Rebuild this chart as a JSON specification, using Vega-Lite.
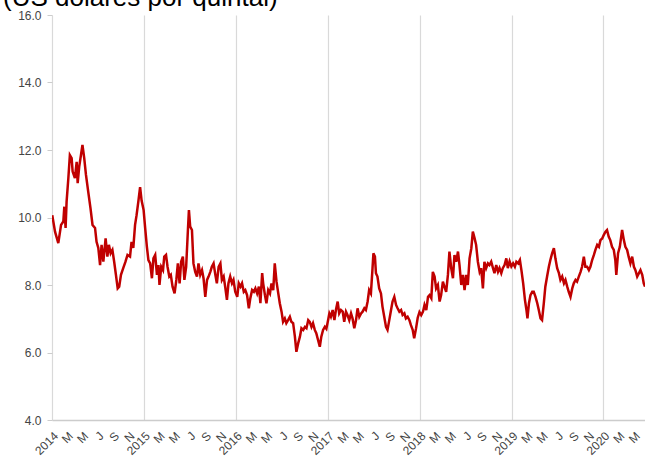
{
"$schema":"https://vega.github.io/schema/vega-lite/v6.json",
"width":593,"height":405,
"autosize":{"type":"none"},
"padding":{"left":52,"top":15,"right":0,"bottom":37},
"background":"white",
"title":{"text":"(US dólares por quintal)","anchor":"start","frame":"group","dx":-49,"dy":2,"offset":0,"font":"Liberation Sans","fontSize":26,"fontWeight":"normal","color":"#000000"},
"config":{"view":{"stroke":null},"font":"Liberation Sans","axisX":{"labelAngle":-45}},
"data":{"values":[
{"d":"2014-01-02","v":10.07},{"d":"2014-01-13","v":9.58},{"d":"2014-01-26","v":9.24},{"d":"2014-02-06","v":9.78},{"d":"2014-02-15","v":9.88},{"d":"2014-02-19","v":10.32},{"d":"2014-02-24","v":9.69},{"d":"2014-02-28","v":10.47},
{"d":"2014-03-07","v":11.17},{"d":"2014-03-13","v":11.85},{"d":"2014-03-20","v":11.76},{"d":"2014-03-24","v":11.36},{"d":"2014-04-02","v":11.17},{"d":"2014-04-09","v":11.65},{"d":"2014-04-13","v":11.02},{"d":"2014-04-19","v":11.5},{"d":"2014-04-26","v":11.85},
{"d":"2014-05-02","v":12.15},{"d":"2014-05-09","v":11.76},{"d":"2014-05-16","v":11.26},{"d":"2014-05-25","v":10.76},{"d":"2014-06-03","v":10.27},{"d":"2014-06-11","v":9.78},{"d":"2014-06-21","v":9.69},{"d":"2014-06-27","v":9.28},
{"d":"2014-07-04","v":9.1},{"d":"2014-07-11","v":8.59},{"d":"2014-07-17","v":9.19},{"d":"2014-07-24","v":8.69},{"d":"2014-08-02","v":9.38},{"d":"2014-08-09","v":8.84},{"d":"2014-08-15","v":9.19},{"d":"2014-08-22","v":8.94},{"d":"2014-08-29","v":9.04},
{"d":"2014-09-05","v":8.69},{"d":"2014-09-12","v":8.3},{"d":"2014-09-19","v":7.9},{"d":"2014-09-25","v":7.95},{"d":"2014-10-02","v":8.3},{"d":"2014-10-11","v":8.5},{"d":"2014-10-20","v":8.69},{"d":"2014-10-28","v":8.89},
{"d":"2014-11-07","v":8.84},{"d":"2014-11-13","v":9.28},{"d":"2014-11-20","v":9.1},{"d":"2014-11-27","v":9.78},{"d":"2014-12-03","v":10.07},{"d":"2014-12-10","v":10.47},{"d":"2014-12-17","v":10.9},{"d":"2014-12-23","v":10.5},{"d":"2014-12-31","v":10.22},
{"d":"2015-01-06","v":9.7},{"d":"2015-01-13","v":9.13},{"d":"2015-01-19","v":8.74},{"d":"2015-01-26","v":8.64},{"d":"2015-02-02","v":8.2},{"d":"2015-02-08","v":8.79},{"d":"2015-02-15","v":8.89},{"d":"2015-02-22","v":8.3},{"d":"2015-02-28","v":8.59},
{"d":"2015-03-04","v":8.0},{"d":"2015-03-11","v":8.54},{"d":"2015-03-18","v":8.44},{"d":"2015-03-23","v":8.84},{"d":"2015-03-30","v":8.89},{"d":"2015-04-05","v":8.54},{"d":"2015-04-12","v":8.25},{"d":"2015-04-18","v":8.3},{"d":"2015-04-25","v":7.95},
{"d":"2015-05-03","v":7.75},{"d":"2015-05-10","v":8.15},{"d":"2015-05-16","v":8.64},{"d":"2015-05-23","v":8.05},{"d":"2015-05-29","v":8.69},{"d":"2015-06-05","v":8.84},{"d":"2015-06-11","v":8.15},{"d":"2015-06-18","v":8.54},{"d":"2015-06-25","v":9.63},{"d":"2015-06-29","v":10.22},
{"d":"2015-07-04","v":9.73},{"d":"2015-07-11","v":9.63},{"d":"2015-07-17","v":8.64},{"d":"2015-07-24","v":8.39},{"d":"2015-07-31","v":8.25},{"d":"2015-08-06","v":8.64},{"d":"2015-08-13","v":8.3},{"d":"2015-08-20","v":8.44},{"d":"2015-08-26","v":8.2},
{"d":"2015-09-02","v":7.65},{"d":"2015-09-09","v":8.15},{"d":"2015-09-15","v":8.25},{"d":"2015-09-22","v":8.39},{"d":"2015-09-28","v":8.54},{"d":"2015-10-05","v":8.64},{"d":"2015-10-12","v":8.3},{"d":"2015-10-18","v":8.05},{"d":"2015-10-25","v":8.54},
{"d":"2015-11-01","v":8.64},{"d":"2015-11-07","v":8.15},{"d":"2015-11-14","v":8.25},{"d":"2015-11-20","v":7.95},{"d":"2015-11-27","v":7.56},{"d":"2015-12-03","v":8.05},{"d":"2015-12-10","v":8.25},{"d":"2015-12-17","v":8.05},{"d":"2015-12-23","v":8.15},{"d":"2015-12-30","v":7.8},
{"d":"2016-01-07","v":7.65},{"d":"2016-01-13","v":8.05},{"d":"2016-01-20","v":7.95},{"d":"2016-01-26","v":8.05},{"d":"2016-02-02","v":7.8},{"d":"2016-02-08","v":7.85},{"d":"2016-02-15","v":7.7},{"d":"2016-02-22","v":7.31},{"d":"2016-02-28","v":7.61},
{"d":"2016-03-06","v":7.85},{"d":"2016-03-13","v":7.8},{"d":"2016-03-19","v":7.9},{"d":"2016-03-26","v":7.75},{"d":"2016-04-02","v":7.95},{"d":"2016-04-08","v":7.46},{"d":"2016-04-15","v":8.35},{"d":"2016-04-19","v":8.05},{"d":"2016-04-26","v":7.7},
{"d":"2016-05-02","v":7.46},{"d":"2016-05-09","v":7.85},{"d":"2016-05-16","v":7.75},{"d":"2016-05-22","v":8.05},{"d":"2016-05-29","v":7.85},{"d":"2016-06-04","v":8.64},{"d":"2016-06-11","v":8.1},{"d":"2016-06-18","v":7.75},{"d":"2016-06-24","v":7.46},
{"d":"2016-07-01","v":7.21},{"d":"2016-07-07","v":6.91},{"d":"2016-07-14","v":7.01},{"d":"2016-07-20","v":6.87},{"d":"2016-07-27","v":6.96},{"d":"2016-08-03","v":7.06},{"d":"2016-08-09","v":6.91},{"d":"2016-08-16","v":6.87},{"d":"2016-08-23","v":6.47},{"d":"2016-08-29","v":6.02},
{"d":"2016-09-05","v":6.27},{"d":"2016-09-12","v":6.47},{"d":"2016-09-18","v":6.72},{"d":"2016-09-25","v":6.67},{"d":"2016-10-02","v":6.76},{"d":"2016-10-08","v":6.72},{"d":"2016-10-15","v":6.96},{"d":"2016-10-21","v":6.91},{"d":"2016-10-28","v":6.76},
{"d":"2016-11-03","v":6.87},{"d":"2016-11-10","v":6.67},{"d":"2016-11-16","v":6.57},{"d":"2016-11-23","v":6.37},{"d":"2016-11-30","v":6.17},{"d":"2016-12-06","v":6.47},{"d":"2016-12-13","v":6.67},{"d":"2016-12-20","v":6.76},{"d":"2016-12-26","v":6.7},
{"d":"2017-01-03","v":7.0},{"d":"2017-01-07","v":7.16},{"d":"2017-01-13","v":7.06},{"d":"2017-01-20","v":7.26},{"d":"2017-01-27","v":6.96},{"d":"2017-02-02","v":7.26},{"d":"2017-02-09","v":7.51},{"d":"2017-02-15","v":7.16},{"d":"2017-02-22","v":7.26},
{"d":"2017-03-01","v":7.21},{"d":"2017-03-07","v":6.91},{"d":"2017-03-14","v":7.21},{"d":"2017-03-20","v":7.11},{"d":"2017-03-27","v":6.96},{"d":"2017-04-03","v":7.16},{"d":"2017-04-09","v":7.01},{"d":"2017-04-16","v":6.72},{"d":"2017-04-23","v":6.96},{"d":"2017-04-29","v":7.31},
{"d":"2017-05-06","v":7.06},{"d":"2017-05-13","v":7.16},{"d":"2017-05-19","v":7.21},{"d":"2017-05-26","v":7.31},{"d":"2017-06-01","v":7.26},{"d":"2017-06-08","v":7.51},{"d":"2017-06-14","v":7.85},{"d":"2017-06-21","v":7.75},{"d":"2017-06-27","v":8.44},
{"d":"2017-07-01","v":8.94},{"d":"2017-07-07","v":8.84},{"d":"2017-07-11","v":8.35},{"d":"2017-07-17","v":8.25},{"d":"2017-07-24","v":7.9},{"d":"2017-07-31","v":7.75},{"d":"2017-08-06","v":7.36},{"d":"2017-08-13","v":7.06},{"d":"2017-08-20","v":6.76},{"d":"2017-08-26","v":6.67},
{"d":"2017-09-02","v":6.96},{"d":"2017-09-09","v":7.26},{"d":"2017-09-15","v":7.51},{"d":"2017-09-22","v":7.65},{"d":"2017-09-29","v":7.41},{"d":"2017-10-05","v":7.31},{"d":"2017-10-12","v":7.21},{"d":"2017-10-19","v":7.26},{"d":"2017-10-25","v":7.11},
{"d":"2017-11-01","v":7.16},{"d":"2017-11-07","v":7.01},{"d":"2017-11-14","v":7.06},{"d":"2017-11-21","v":6.96},{"d":"2017-11-27","v":6.81},{"d":"2017-12-04","v":6.67},{"d":"2017-12-10","v":6.42},{"d":"2017-12-17","v":6.7},{"d":"2017-12-24","v":7.03},{"d":"2017-12-31","v":7.2},
{"d":"2018-01-07","v":7.11},{"d":"2018-01-14","v":7.21},{"d":"2018-01-20","v":7.41},{"d":"2018-01-27","v":7.26},{"d":"2018-02-03","v":7.65},{"d":"2018-02-09","v":7.7},{"d":"2018-02-16","v":7.61},{"d":"2018-02-22","v":8.39},
{"d":"2018-03-01","v":8.25},{"d":"2018-03-07","v":7.9},{"d":"2018-03-14","v":8.0},{"d":"2018-03-21","v":7.51},{"d":"2018-03-27","v":7.7},{"d":"2018-04-03","v":8.1},{"d":"2018-04-09","v":7.95},{"d":"2018-04-16","v":7.8},{"d":"2018-04-23","v":8.3},{"d":"2018-04-29","v":8.99},
{"d":"2018-05-06","v":8.5},{"d":"2018-05-13","v":8.2},{"d":"2018-05-19","v":8.89},{"d":"2018-05-26","v":8.69},{"d":"2018-06-02","v":8.99},{"d":"2018-06-08","v":8.59},{"d":"2018-06-15","v":8.0},{"d":"2018-06-22","v":8.3},{"d":"2018-06-28","v":7.85},
{"d":"2018-07-05","v":8.3},{"d":"2018-07-11","v":8.0},{"d":"2018-07-18","v":8.79},{"d":"2018-07-25","v":9.09},{"d":"2018-07-31","v":9.58},{"d":"2018-08-07","v":9.38},{"d":"2018-08-13","v":9.19},{"d":"2018-08-20","v":8.69},{"d":"2018-08-27","v":8.39},
{"d":"2018-09-02","v":8.5},{"d":"2018-09-09","v":7.9},{"d":"2018-09-15","v":8.69},{"d":"2018-09-22","v":8.5},{"d":"2018-09-29","v":8.64},{"d":"2018-10-05","v":8.59},{"d":"2018-10-12","v":8.69},{"d":"2018-10-19","v":8.5},{"d":"2018-10-25","v":8.35},
{"d":"2018-11-01","v":8.59},{"d":"2018-11-08","v":8.39},{"d":"2018-11-14","v":8.5},{"d":"2018-11-21","v":8.35},{"d":"2018-11-27","v":8.5},{"d":"2018-12-04","v":8.59},{"d":"2018-12-11","v":8.79},{"d":"2018-12-17","v":8.5},{"d":"2018-12-24","v":8.7},{"d":"2018-12-31","v":8.55},
{"d":"2019-01-07","v":8.64},{"d":"2019-01-14","v":8.54},{"d":"2019-01-20","v":8.69},{"d":"2019-01-27","v":8.64},{"d":"2019-02-03","v":8.74},{"d":"2019-02-09","v":8.44},{"d":"2019-02-16","v":8.05},{"d":"2019-02-23","v":7.56},
{"d":"2019-03-01","v":7.26},{"d":"2019-03-05","v":7.01},{"d":"2019-03-11","v":7.46},{"d":"2019-03-17","v":7.7},{"d":"2019-03-24","v":7.8},{"d":"2019-03-30","v":7.8},{"d":"2019-04-06","v":7.65},{"d":"2019-04-13","v":7.46},{"d":"2019-04-19","v":7.26},{"d":"2019-04-26","v":7.01},
{"d":"2019-05-02","v":6.96},{"d":"2019-05-09","v":7.46},{"d":"2019-05-15","v":7.95},{"d":"2019-05-22","v":8.25},{"d":"2019-05-29","v":8.54},{"d":"2019-06-04","v":8.74},{"d":"2019-06-11","v":8.94},{"d":"2019-06-18","v":9.09},{"d":"2019-06-24","v":8.79},
{"d":"2019-07-01","v":8.5},{"d":"2019-07-08","v":8.35},{"d":"2019-07-14","v":8.15},{"d":"2019-07-21","v":8.25},{"d":"2019-07-28","v":8.05},{"d":"2019-08-03","v":8.15},{"d":"2019-08-10","v":7.95},{"d":"2019-08-16","v":7.8},{"d":"2019-08-23","v":7.65},{"d":"2019-08-30","v":7.9},
{"d":"2019-09-05","v":8.05},{"d":"2019-09-12","v":8.15},{"d":"2019-09-18","v":8.1},{"d":"2019-09-25","v":8.25},{"d":"2019-10-02","v":8.39},{"d":"2019-10-08","v":8.54},{"d":"2019-10-15","v":8.84},{"d":"2019-10-21","v":8.54},{"d":"2019-10-28","v":8.54},
{"d":"2019-11-04","v":8.44},{"d":"2019-11-10","v":8.54},{"d":"2019-11-17","v":8.74},{"d":"2019-11-24","v":8.89},{"d":"2019-11-30","v":9.04},{"d":"2019-12-07","v":9.19},{"d":"2019-12-14","v":9.13},{"d":"2019-12-20","v":9.33},{"d":"2019-12-27","v":9.38},
{"d":"2020-01-02","v":9.48},{"d":"2020-01-09","v":9.58},{"d":"2020-01-15","v":9.63},{"d":"2020-01-22","v":9.43},{"d":"2020-01-28","v":9.33},{"d":"2020-02-04","v":9.13},{"d":"2020-02-11","v":9.04},{"d":"2020-02-17","v":8.74},{"d":"2020-02-21","v":8.3},{"d":"2020-02-28","v":8.94},
{"d":"2020-03-06","v":9.13},{"d":"2020-03-15","v":9.63},{"d":"2020-03-22","v":9.33},{"d":"2020-03-28","v":9.13},{"d":"2020-04-04","v":9.04},{"d":"2020-04-10","v":8.84},{"d":"2020-04-17","v":8.64},{"d":"2020-04-24","v":8.84},
{"d":"2020-05-01","v":8.54},{"d":"2020-05-07","v":8.44},{"d":"2020-05-14","v":8.25},{"d":"2020-05-21","v":8.35},{"d":"2020-05-27","v":8.44},{"d":"2020-06-03","v":8.3},{"d":"2020-06-09","v":8.05},{"d":"2020-06-14","v":7.95}
]},
"mark":{"type":"line","color":"#c00000","strokeWidth":2.5,"clip":true},
"encoding":{
"x":{"field":"d","type":"temporal","title":null,
"scale":{"domain":[{"year":2014,"month":1,"date":1,"utc":true},{"year":2020,"month":6,"date":14,"utc":true}]},
"axis":{"values":[
{"year":2014,"month":1,"date":1,"utc":true},{"year":2014,"month":3,"date":1,"utc":true},{"year":2014,"month":5,"date":1,"utc":true},{"year":2014,"month":7,"date":1,"utc":true},{"year":2014,"month":9,"date":1,"utc":true},{"year":2014,"month":11,"date":1,"utc":true},
{"year":2015,"month":1,"date":1,"utc":true},{"year":2015,"month":3,"date":1,"utc":true},{"year":2015,"month":5,"date":1,"utc":true},{"year":2015,"month":7,"date":1,"utc":true},{"year":2015,"month":9,"date":1,"utc":true},{"year":2015,"month":11,"date":1,"utc":true},
{"year":2016,"month":1,"date":1,"utc":true},{"year":2016,"month":3,"date":1,"utc":true},{"year":2016,"month":5,"date":1,"utc":true},{"year":2016,"month":7,"date":1,"utc":true},{"year":2016,"month":9,"date":1,"utc":true},{"year":2016,"month":11,"date":1,"utc":true},
{"year":2017,"month":1,"date":1,"utc":true},{"year":2017,"month":3,"date":1,"utc":true},{"year":2017,"month":5,"date":1,"utc":true},{"year":2017,"month":7,"date":1,"utc":true},{"year":2017,"month":9,"date":1,"utc":true},{"year":2017,"month":11,"date":1,"utc":true},
{"year":2018,"month":1,"date":1,"utc":true},{"year":2018,"month":3,"date":1,"utc":true},{"year":2018,"month":5,"date":1,"utc":true},{"year":2018,"month":7,"date":1,"utc":true},{"year":2018,"month":9,"date":1,"utc":true},{"year":2018,"month":11,"date":1,"utc":true},
{"year":2019,"month":1,"date":1,"utc":true},{"year":2019,"month":3,"date":1,"utc":true},{"year":2019,"month":5,"date":1,"utc":true},{"year":2019,"month":7,"date":1,"utc":true},{"year":2019,"month":9,"date":1,"utc":true},{"year":2019,"month":11,"date":1,"utc":true},
{"year":2020,"month":1,"date":1,"utc":true},{"year":2020,"month":3,"date":1,"utc":true},{"year":2020,"month":5,"date":1,"utc":true}],
"labelExpr":"utcmonth(datum.value)==0 ? utcFormat(datum.value,'%Y') : (utcmonth(datum.value)==2 || utcmonth(datum.value)==4) ? 'M' : utcmonth(datum.value)==6 ? 'J' : utcmonth(datum.value)==8 ? 'S' : 'N'",
"labelAngle":-45,"labelOverlap":false,"labelFlush":false,"labelBound":false,
"labelFontSize":12,"labelColor":"#444444","labelFont":"Liberation Sans","labelPadding":10,
"ticks":false,"domain":true,"domainColor":"#cccccc","domainWidth":1.5,
"grid":true,"gridColor":"#d9d9d9","gridWidth":1.2,
"gridOpacity":{"condition":{"test":"utcmonth(datum.value)==0","value":1},"value":0}}},
"y":{"field":"v","type":"quantitative","title":null,
"scale":{"domain":[4,16],"nice":false,"zero":false},
"axis":{"values":[4,6,8,10,12,14,16],"format":".1f","grid":false,"domain":false,"ticks":true,"tickSize":5,"tickColor":"#cccccc",
"labelFontSize":12,"labelColor":"#444444","labelFont":"Liberation Sans","labelPadding":6}}
}
}
